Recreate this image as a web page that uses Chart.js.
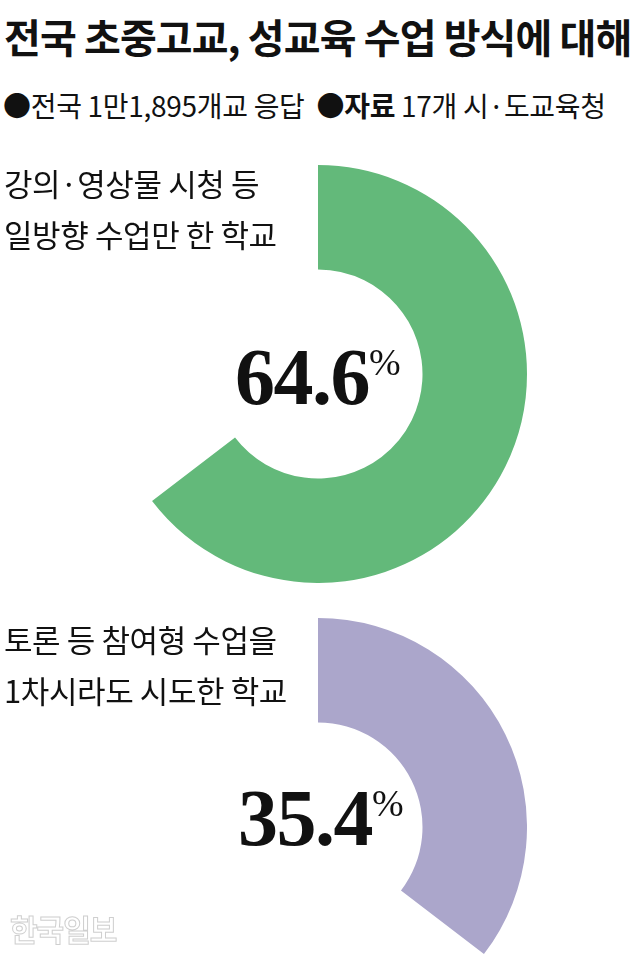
<!DOCTYPE html>
<html>
<head>
<meta charset="utf-8">
<script src="https://cdn.jsdelivr.net/npm/chart.js@4.4.0/dist/chart.umd.min.js"></script>
<style>
  body { margin: 0; width: 640px; height: 956px; overflow: hidden; background: #fff; position: relative;
         font-family: "Noto Sans CJK KR", "Noto Sans", sans-serif; color: #111; }
  .t { position: absolute; white-space: nowrap; }
  #title { left: 4px; top: 7px; font-size: 40px; font-weight: 700; letter-spacing: -0.9px; }
  #sub { left: 3px; top: 85px; font-size: 28px; letter-spacing: -0.3px; }
  .lbl { font-size: 31px; letter-spacing: -0.4px; line-height: 51px; left: 4px; }
  .pct { font-family: "Liberation Serif", serif; font-weight: 700; font-size: 80px; line-height: 80px; letter-spacing: -1.5px; }
  .pct span { font-size: 38px; vertical-align: 29px; letter-spacing: 0; font-weight: 400; }
  canvas { position: absolute; }
  #wm { left: 10px; top: 906px; font-size: 30px; font-weight: 700; color: #fff;
        -webkit-text-stroke: 1px #cfcfcf; letter-spacing: -1px; }
</style>
</head>
<body>
<div class="t" id="title">전국 초중고교, 성교육 수업 방식에 대해</div>
<div class="t" id="sub">●전국 1만1,895개교 응답&nbsp; ●<b>자료</b> 17개 시·도교육청</div>

<canvas id="c1" width="418" height="418" style="left:109px; top:165px"></canvas>
<canvas id="c2" width="418" height="418" style="left:109px; top:618px"></canvas>

<div class="t lbl" id="l1" style="top:157px">강의·영상물 시청 등<br>일방향 수업만 한 학교</div>
<div class="t lbl" id="l2" style="top:613px">토론 등 참여형 수업을<br>1차시라도 시도한 학교</div>

<div class="t pct" id="p1" style="left:235px; top:322px"></div>
<div class="t pct" id="p2" style="left:238px; top:763px"></div>

<div class="t" id="wm">한국일보</div>

<script>
var labels = ['강의·영상물 시청 등 일방향 수업만 한 학교', '토론 등 참여형 수업을 1차시라도 시도한 학교'];
var values = [64.6, 35.4];
var colors = ['#63b97a', '#aba6cb'];

document.getElementById('p1').innerHTML = values[0].toFixed(1) + '<span>%</span>';
document.getElementById('p2').innerHTML = values[1].toFixed(1) + '<span>%</span>';

function makeRing(id, i) {
    var ctx = document.getElementById(id).getContext('2d');
    return new Chart(ctx, {
        type: 'doughnut',
        data: {
            labels: [labels[i], '나머지'],
            datasets: [{
                data: [values[i], 100 - values[i]],
                backgroundColor: [colors[i], 'rgba(0,0,0,0)'],
                borderWidth: 0
            }]
        },
        options: {
            responsive: false,
            animation: false,
            cutout: '50%',
            rotation: 0,
            layout: { padding: 0 },
            plugins: { legend: { display: false }, tooltip: { enabled: false } }
        }
    });
}

makeRing('c1', 0);
makeRing('c2', 1);
</script>
</body>
</html>
